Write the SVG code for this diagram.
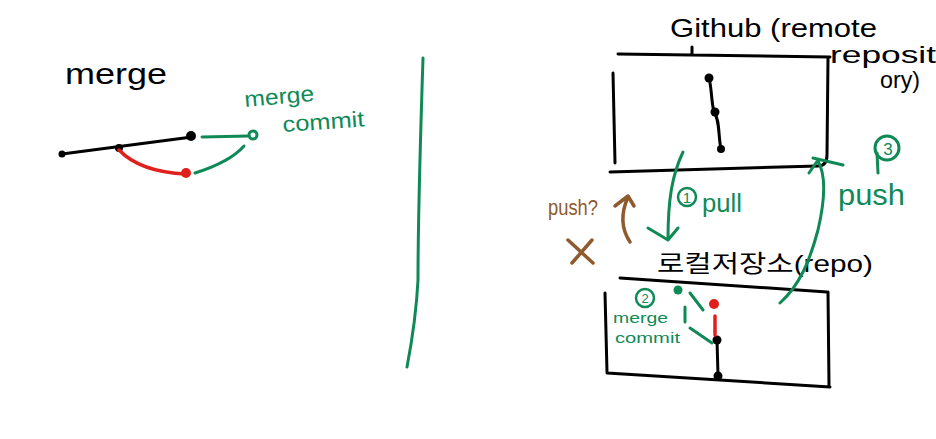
<svg xmlns="http://www.w3.org/2000/svg" width="936" height="439" viewBox="0 0 936 439">
<style>
.k{stroke:#000;fill:none;stroke-width:3;stroke-linecap:round;stroke-linejoin:round}
.g{stroke:#0f8a57;fill:none;stroke-width:3;stroke-linecap:round;stroke-linejoin:round}
.r{stroke:#e0201d;fill:none;stroke-width:3.5;stroke-linecap:round}
.b{stroke:#8f5a2e;fill:none;stroke-width:3.5;stroke-linecap:round;stroke-linejoin:round}
.tk{font-family:"Liberation Sans","Noto Sans CJK KR",sans-serif;fill:#000}
.tg{font-family:"Liberation Sans",sans-serif;fill:#0f8a57}
.tb{font-family:"Liberation Sans",sans-serif;fill:#8f5a2e}
</style>
<rect width="936" height="439" fill="#fff"/>
<g id="merge-example">
<text class="tk" x="65" y="84" font-size="30" textLength="102" lengthAdjust="spacingAndGlyphs">merge</text>
<path class="k" d="M62,154 L192,137"/>
<circle cx="62" cy="154" r="3.5" fill="#000"/>
<circle cx="119" cy="148" r="4" fill="#000"/>
<circle cx="191" cy="136" r="5" fill="#000"/>
<path class="r" d="M119,150 Q140,172 186,174"/>
<circle cx="186" cy="173" r="5" fill="#e0201d"/>
<path class="g" d="M202,137 L249,136"/>
<circle cx="253" cy="135" r="4" fill="none" stroke="#0f8a57" stroke-width="3"/>
<path class="g" d="M195,173 Q230,162 244,146"/>
<text class="tg" x="245" y="107" font-size="22" textLength="70" lengthAdjust="spacingAndGlyphs" transform="rotate(-5 245 107)">merge</text>
<text class="tg" x="283" y="132" font-size="22" textLength="82" lengthAdjust="spacingAndGlyphs" transform="rotate(-4 283 132)">commit</text>
</g>
<g id="divider">
<path class="g" d="M423,58 C420,150 418,250 418,280 Q416,320 407,367"/>
</g>
<g id="remote-repo">
<text class="tk" x="670" y="37" font-size="26" textLength="207" lengthAdjust="spacingAndGlyphs">Github (remote</text>
<text class="tk" x="830" y="63" font-size="24" textLength="106" lengthAdjust="spacingAndGlyphs">reposit</text>
<text class="tk" x="880" y="88" font-size="24" textLength="40" lengthAdjust="spacingAndGlyphs">ory)</text>
<path class="k" d="M618,54 L830,57 M692,47 L692,54 M613,73 L615,163 M828,57 L827,155 Q827,166 818,166 M610,172 L818,166"/>
<path class="k" d="M709,78 C712,90 711,100 714,112 C720,120 718,135 721,149"/>
<circle cx="709" cy="78" r="4.5" fill="#000"/>
<circle cx="715" cy="112" r="4.5" fill="#000"/>
<circle cx="721" cy="149" r="4" fill="#000"/>
</g>
<g id="local-repo">
<text class="tk" x="657" y="272" font-size="24" textLength="216" lengthAdjust="spacingAndGlyphs">로컬저장소(repo)</text>
<path class="k" d="M620,278 L827,292 M605,293 L607,372 M828,292 L829,385 M607,373 L830,387"/>
<path class="k" d="M717,340 L718,375"/>
<circle cx="717" cy="340" r="4.5" fill="#000"/>
<circle cx="718" cy="376" r="4.5" fill="#000"/>
<path class="r" d="M715,316 L715,335"/>
<circle cx="714" cy="304" r="5" fill="#e0201d"/>
<circle cx="678" cy="290" r="4.5" fill="#0f8a57"/>
<path class="g" d="M690,293 L703,310 M685,307 L685,322 M690,328 L712,343"/>
<circle cx="645" cy="298" r="9" fill="none" stroke="#0f8a57" stroke-width="2.5"/>
<text class="tg" x="645" y="303" font-size="13" text-anchor="middle">2</text>
<text class="tg" x="613" y="323" font-size="15" textLength="55" lengthAdjust="spacingAndGlyphs">merge</text>
<text class="tg" x="615" y="343" font-size="15" textLength="65" lengthAdjust="spacingAndGlyphs">commit</text>
</g>
<g id="connectors">
<path class="g" d="M683,152 C672,175 668,200 668,239 M648,228 L668,240 L678,228"/>
<circle cx="687" cy="197" r="9" fill="none" stroke="#0f8a57" stroke-width="2.5"/>
<text class="tg" x="687" y="203" font-size="15" text-anchor="middle">1</text>
<text class="tg" x="702" y="212" font-size="25" textLength="40" lengthAdjust="spacingAndGlyphs">pull</text>
<path class="g" d="M780,303 C800,285 810,260 818,230 C825,200 826,175 818,161 M809,173 L818,160 M813,158 L843,165"/>
<circle cx="887" cy="148" r="12" fill="none" stroke="#0f8a57" stroke-width="3"/>
<path class="g" d="M877,153 L878,173"/>
<text class="tg" x="888" y="155" font-size="17" text-anchor="middle">3</text>
<text class="tg" x="838" y="205" font-size="30" textLength="67" lengthAdjust="spacingAndGlyphs">push</text>
<path class="b" d="M630,242 C622,230 620,215 628,197 M615,206 L628,196 L634,206"/>
<path class="b" d="M568,240 L593,263 M592,240 L572,263"/>
<text class="tb" x="548" y="215" font-size="22" textLength="50" lengthAdjust="spacingAndGlyphs">push?</text>
</g>
</svg>
